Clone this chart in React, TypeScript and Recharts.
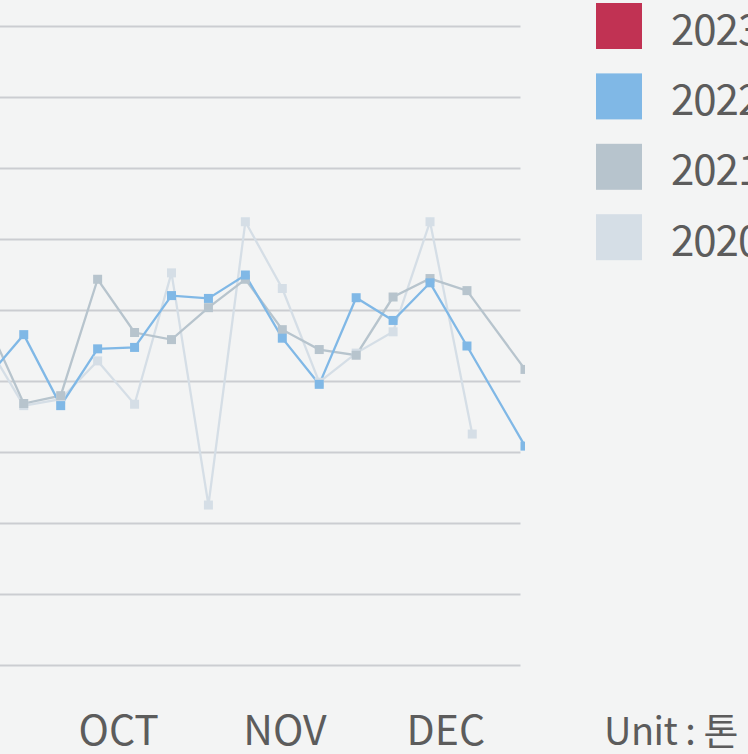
import React from 'react';
import { LineChart, Line, XAxis, YAxis, CartesianGrid, Legend } from 'recharts';

// x = day of year (weekly points), y = volume
const weekDays = [263, 270, 277, 284, 291, 298, 305, 312, 319, 326, 333, 340, 347, 354, 365];
const weekDays2020 = [263, 270, 277, 284, 291, 298, 305, 312, 319, 326, 333, 340, 347, 355];
const values2023: number[] = [];
const values2022 = [40.5, 46.6, 36.6, 44.6, 44.8, 52.1, 51.7, 55.0, 46.1, 39.6, 51.8, 48.6, 53.9, 45.0, 30.9];
const values2021 = [48.4, 36.9, 38.0, 54.4, 46.9, 45.9, 50.4, 54.4, 47.3, 44.5, 43.7, 51.9, 54.5, 52.8, 41.7];
const values2020 = [45.3, 36.6, 37.5, 42.9, 36.8, 55.3, 22.6, 62.5, 53.1, 39.9, 44.0, 47.0, 62.5, 32.6];

const monthTicks = [288, 319.5, 350];
const monthLabels = ['OCT', 'NOV', 'DEC'];
const yTicks = [0, 10, 20, 30, 40, 50, 60, 70, 80, 90];

const seriesNames = ['2023', '2022', '2021', '2020'];
const seriesColors = ['#c13253', '#80b8e6', '#b7c4cd', '#d5dee6'];
const unitLabel = 'Unit : 톤';

const FONT = '"Noto Sans CJK KR", "Noto Sans", sans-serif';
const TEXT_COLOR = '#5c5c5c';
const LINE_W = 2.3;

const toPoints = (days: number[], vals: number[]) => vals.map((v, i) => ({ x: days[i], v }));

const data2023 = toPoints(weekDays, values2023);
const data2022 = toPoints(weekDays, values2022);
const data2021 = toPoints(weekDays, values2021);
const data2020 = toPoints(weekDays2020, values2020);

const makeDot = (color: string) => (props: any) => {
  const { cx, cy, index } = props;
  if (cx == null || cy == null) return <g key={index} />;
  return <rect key={index} x={cx - 4.5} y={cy - 4.5} width={9} height={9} fill={color} />;
};

const MonthTick = (props: any) => {
  const { x, y, payload } = props;
  const idx = monthTicks.indexOf(payload.value);
  return (
    <text x={x} y={y + 79.5} textAnchor="middle" fontFamily={FONT} fontSize={41} fill={TEXT_COLOR}>
      {monthLabels[idx]}
    </text>
  );
};

const GridLine = (props: any) => {
  const { x1, x2, y1, y2, key } = props;
  return <line key={key} x1={x1} x2={x2 - 4.5} y1={y1} y2={y2} stroke="#cbcdd1" strokeWidth={2.2} />;
};

const LegendContent = () => (
  <svg width={160} height={754} style={{ display: 'block', overflow: 'visible' }}>
    {seriesNames.map((name, i) => (
      <g key={name}>
        <rect x={0} y={3 + i * 70.4} width={46} height={46} fill={seriesColors[i]} />
        <text x={75} y={44.5 + i * 70.4} fontFamily={FONT} fontSize={42} fill={TEXT_COLOR} letterSpacing={-1}>
          {name}
        </text>
      </g>
    ))}
    <text x={8} y={745} fontFamily={FONT} fontSize={38} fill={TEXT_COLOR} letterSpacing={-0.5}>
      {unitLabel}
    </text>
  </svg>
);

export default function App() {
  return (
    <div style={{ position: 'fixed', inset: 0, background: '#f3f4f4', overflow: 'hidden' }}>
      <div style={{ position: 'absolute', left: -29, top: 0 }}>
        <LineChart
          width={800}
          height={754}
          margin={{ top: 26.5, right: 246, bottom: 58.5, left: 0 }}
        >
          <CartesianGrid vertical={false} horizontal={GridLine as any} />
          <XAxis
            type="number"
            dataKey="x"
            domain={[260, 365]}
            ticks={monthTicks}
            tick={<MonthTick />}
            tickLine={false}
            axisLine={false}
            tickSize={0}
            tickMargin={0}
            height={30}
            allowDataOverflow
          />
          <YAxis hide domain={[0, 90]} ticks={yTicks} type="number" allowDataOverflow />
          <Legend
            layout="horizontal"
            verticalAlign="middle"
            align="center"
            wrapperStyle={{ left: 625, top: 0, width: 160, height: 754 }}
            content={<LegendContent />}
          />
          <Line data={data2023} dataKey="v" name="2023" stroke={seriesColors[0]} strokeWidth={LINE_W} dot={makeDot(seriesColors[0])} activeDot={false} isAnimationActive={false} />
          <Line data={data2020} dataKey="v" name="2020" stroke={seriesColors[3]} strokeWidth={LINE_W} dot={makeDot(seriesColors[3])} activeDot={false} isAnimationActive={false} />
          <Line data={data2021} dataKey="v" name="2021" stroke={seriesColors[2]} strokeWidth={LINE_W} dot={makeDot(seriesColors[2])} activeDot={false} isAnimationActive={false} />
          <Line data={data2022} dataKey="v" name="2022" stroke={seriesColors[1]} strokeWidth={LINE_W} dot={makeDot(seriesColors[1])} activeDot={false} isAnimationActive={false} />
        </LineChart>
      </div>
    </div>
  );
}
